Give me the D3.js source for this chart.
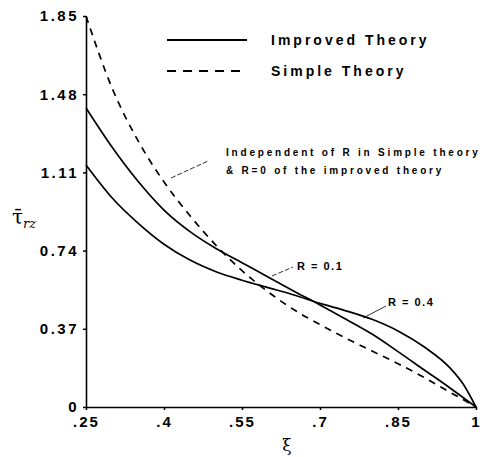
<!DOCTYPE html>
<html>
<head>
<meta charset="utf-8">
<script src="https://cdn.jsdelivr.net/npm/d3@7"></script>
<style>
  body { margin: 0; background: #fff; }
  svg { display: block; font-family: "Liberation Sans", Arial, sans-serif; }
  .tick text { font-weight: bold; }
</style>
</head>
<body>
<svg id="drawing_region"></svg>
<script>
// data
const xi = [0.25, 0.30, 0.35, 0.40, 0.45, 0.50, 0.55, 0.60, 0.65, 0.70, 0.75, 0.80, 0.85, 0.90, 0.95, 0.975, 1.00];
const simple = [1.85, 1.51, 1.26, 1.065, 0.905, 0.765, 0.645, 0.545, 0.46, 0.39, 0.325, 0.265, 0.205, 0.14, 0.07, 0.035, 0];
const improvedR01 = [1.415, 1.23, 1.068, 0.932, 0.83, 0.75, 0.683, 0.615, 0.548, 0.483, 0.415, 0.345, 0.262, 0.176, 0.09, 0.045, 0];
const improvedR04 = [1.145, 0.99, 0.87, 0.77, 0.695, 0.64, 0.60, 0.565, 0.53, 0.49, 0.455, 0.415, 0.36, 0.285, 0.185, 0.11, 0];
const xticks = [0.25, 0.4, 0.55, 0.7, 0.85, 1];
const xtickLabels = ['.25', '.4', '.55', '.7', '.85', '1'];
const yticks = [0, 0.37, 0.74, 1.11, 1.48, 1.85];
const ytickLabels = ['0', '0.37', '0.74', '1.11', '1.48', '1.85'];

const width = 482, height = 457;
const svg = d3.select('#drawing_region')
    .attr('width', width)
    .attr('height', height);

const xscale = d3.scaleLinear().domain([0.25, 1]).range([86, 476]);
const yscale = d3.scaleLinear().domain([0, 1.85]).range([407, 16]);

// axes
const xaxis = d3.axisBottom(xscale)
    .tickValues(xticks)
    .tickFormat((d, i) => xtickLabels[i])
    .tickSize(3)
    .tickSizeOuter(0);
svg.append('g')
    .attr('transform', `translate(0, ${yscale(0)})`)
    .call(xaxis)
    .call(g => g.select('.domain').attr('stroke-width', 1.6))
    .call(g => g.selectAll('.tick line').attr('stroke-width', 1.5))
    .call(g => g.selectAll('.tick text')
        .attr('font-size', 15)
        .attr('letter-spacing', 2)
        .attr('dy', '0.9em'));

const yaxis = d3.axisLeft(yscale)
    .tickValues(yticks)
    .tickFormat((d, i) => ytickLabels[i])
    .tickSize(3)
    .tickSizeOuter(0);
svg.append('g')
    .attr('transform', `translate(${xscale(0.25)}, 0)`)
    .call(yaxis)
    .call(g => g.select('.domain').attr('stroke-width', 1.6))
    .call(g => g.selectAll('.tick line').attr('stroke-width', 1.5))
    .call(g => g.selectAll('.tick text')
        .attr('font-size', 15)
        .attr('letter-spacing', 2.5)
        .attr('x', -7));

// curves
const line = d3.line()
    .x(d => xscale(d[0]))
    .y(d => yscale(d[1]))
    .curve(d3.curveMonotoneX);

const series = [
    { values: simple, dash: '7,6' },
    { values: improvedR01, dash: null },
    { values: improvedR04, dash: null }
];
svg.selectAll('path.curve').data(series)
    .join('path')
    .attr('class', 'curve')
    .attr('fill', 'none')
    .attr('stroke', '#000')
    .attr('stroke-width', 1.7)
    .attr('stroke-dasharray', d => d.dash)
    .attr('d', d => line(xi.map((x, i) => [x, d.values[i]])));

// legend
const legend = [
    { label: 'Improved Theory', dash: null, y: 40 },
    { label: 'Simple Theory', dash: '9,7', y: 71 }
];
legend.forEach(l => {
    svg.append('line')
        .attr('x1', 167).attr('x2', 247)
        .attr('y1', l.y).attr('y2', l.y)
        .attr('stroke', '#000')
        .attr('stroke-width', 2)
        .attr('stroke-dasharray', l.dash);
    svg.append('text')
        .attr('x', 271)
        .attr('y', l.y + 5)
        .attr('font-size', 14)
        .attr('font-weight', 'bold')
        .attr('letter-spacing', 3)
        .text(l.label);
});

// annotations
const note = svg.append('text')
    .attr('font-size', 10)
    .attr('font-weight', 'bold')
    .attr('letter-spacing', 2.8);
note.append('tspan').attr('x', 226).attr('y', 156).text('Independent of R in Simple theory');
note.append('tspan').attr('x', 226).attr('y', 174).text('& R=0 of the improved theory');

svg.append('line')
    .attr('x1', 171).attr('y1', 178).attr('x2', 208).attr('y2', 161)
    .attr('stroke', '#000').attr('stroke-width', 0.8).attr('stroke-dasharray', '5,2');

svg.append('text')
    .attr('x', 297).attr('y', 270)
    .attr('font-size', 11).attr('font-weight', 'bold').attr('letter-spacing', 1.5)
    .text('R = 0.1');
svg.append('line')
    .attr('x1', 272).attr('y1', 276).attr('x2', 293).attr('y2', 267)
    .attr('stroke', '#000').attr('stroke-width', 0.8).attr('stroke-dasharray', '5,2');

svg.append('text')
    .attr('x', 388).attr('y', 306)
    .attr('font-size', 11).attr('font-weight', 'bold').attr('letter-spacing', 1.5)
    .text('R = 0.4');
svg.append('line')
    .attr('x1', 363).attr('y1', 318).attr('x2', 386).attr('y2', 306)
    .attr('stroke', '#000').attr('stroke-width', 0.8);

// axis labels
const ylab = svg.append('text')
    .attr('x', 12).attr('y', 224)
    .attr('font-family', '"DejaVu Serif", serif')
    .attr('font-size', 20);
ylab.append('tspan').text('τ̄');
ylab.append('tspan').attr('font-size', 13).attr('font-style', 'italic').attr('dy', 4).text('rz');

svg.append('text')
    .attr('x', 287).attr('y', 451)
    .attr('text-anchor', 'middle')
    .attr('font-family', '"DejaVu Serif", serif')
    .attr('font-size', 17)
    .text('ξ');
</script>
</body>
</html>
